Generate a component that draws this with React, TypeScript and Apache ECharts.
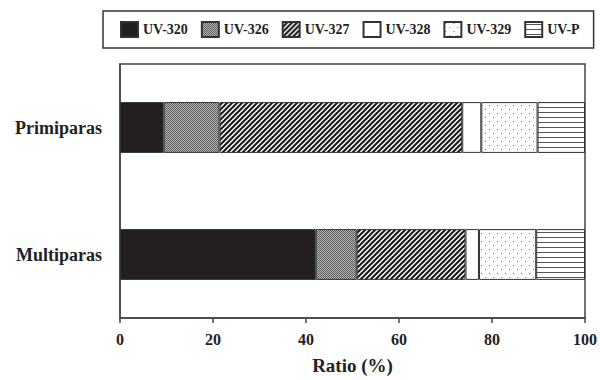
import React, { useEffect, useRef } from "react";
import * as echarts from "echarts";

const categories = ["Primiparas", "Multiparas"];
const seriesNames = ["UV-320", "UV-326", "UV-327", "UV-328", "UV-329", "UV-P"];
const uv320 = [9.4, 42.1];
const uv326 = [12.0, 8.8];
const uv327 = [52.2, 23.4];
const uv328 = [4.1, 2.9];
const uv329 = [12.1, 12.3];
const uvP = [10.2, 10.5];
const xTicks = [0, 20, 40, 60, 80, 100];

function makeCanvas(w: number, h: number, draw: (ctx: CanvasRenderingContext2D) => void) {
  const c = document.createElement("canvas");
  c.width = w;
  c.height = h;
  const ctx = c.getContext("2d")!;
  draw(ctx);
  return c;
}

function patterns() {
  const mesh = makeCanvas(4, 4, (ctx) => {
    ctx.fillStyle = "#bdbdbd";
    ctx.fillRect(0, 0, 4, 4);
    ctx.fillStyle = "#555";
    for (let y = 0; y < 4; y++)
      for (let x = 0; x < 4; x++) if ((x + y) % 2 === 0) ctx.fillRect(x, y, 1, 1);
  });
  const diag = makeCanvas(5, 5, (ctx) => {
    ctx.fillStyle = "#ffffff";
    ctx.fillRect(0, 0, 5, 5);
    ctx.strokeStyle = "#1a1a1a";
    ctx.lineWidth = 2.1;
    ctx.beginPath();
    ctx.moveTo(-1, 6);
    ctx.lineTo(6, -1);
    ctx.moveTo(-1, 1);
    ctx.lineTo(1, -1);
    ctx.moveTo(4, 6);
    ctx.lineTo(6, 4);
    ctx.stroke();
  });
  const dots = makeCanvas(8, 8, (ctx) => {
    ctx.fillStyle = "#ffffff";
    ctx.fillRect(0, 0, 8, 8);
    ctx.fillStyle = "#777";
    ctx.fillRect(1, 1, 1, 1);
    ctx.fillRect(5, 5, 1, 1);
  });
  const hlines = makeCanvas(4, 5, (ctx) => {
    ctx.fillStyle = "#ffffff";
    ctx.fillRect(0, 0, 4, 5);
    ctx.fillStyle = "#555";
    ctx.fillRect(0, 2, 4, 1);
  });
  return { mesh, diag, dots, hlines };
}

export default function App() {
  const ref = useRef<HTMLDivElement>(null);
  useEffect(() => {
    if (!ref.current) return;
    const chart = echarts.init(ref.current, null, { renderer: "svg" });
    const p = patterns();
    const fills: any[] = [
      "#231f20",
      { image: p.mesh, repeat: "repeat" },
      { image: p.diag, repeat: "repeat" },
      "#ffffff",
      { image: p.dots, repeat: "repeat" },
      { image: p.hlines, repeat: "repeat" },
    ];
    const datas = [uv320, uv326, uv327, uv328, uv329, uvP];
    const font = "Liberation Serif";
    chart.setOption({
      animation: false,
      backgroundColor: "#ffffff",
      textStyle: { fontFamily: font },
      legend: {
        data: seriesNames,
        left: 103,
        top: 11,
        width: 470,
        padding: [10, 14, 10, 17],
        itemGap: 13,
        itemWidth: 17,
        itemHeight: 15,
        icon: "rect",
        borderColor: "#333",
        borderWidth: 1.5,
        textStyle: { fontFamily: font, fontWeight: "bold", fontSize: 14, color: "#222" },
      },
      grid: {
        left: 120,
        right: 10,
        top: 64,
        bottom: 57,
        show: true,
        borderColor: "#444",
        borderWidth: 1.5,
        backgroundColor: "transparent",
      },
      xAxis: {
        type: "value",
        min: 0,
        max: 100,
        interval: 20,
        name: "Ratio (%)",
        nameLocation: "middle",
        nameGap: 38,
        nameTextStyle: { fontFamily: font, fontWeight: "bold", fontSize: 19, color: "#222" },
        axisLine: { show: true, lineStyle: { color: "#444", width: 1.5 } },
        axisTick: { show: true, length: 5, lineStyle: { color: "#444", width: 1.5 } },
        axisLabel: {
          margin: 13,
          fontFamily: font,
          fontWeight: "bold",
          fontSize: 16,
          color: "#222",
          formatter: (v: number) => (xTicks.includes(v) ? String(v) : ""),
        },
        splitLine: { show: false },
      },
      yAxis: {
        type: "category",
        data: categories,
        inverse: true,
        axisLine: { show: true, lineStyle: { color: "#444", width: 1.5 } },
        axisTick: { show: false },
        axisLabel: {
          margin: 18,
          fontFamily: font,
          fontWeight: "bold",
          fontSize: 18,
          color: "#222",
        },
      },
      series: seriesNames.map((name, i) => ({
        name,
        type: "bar",
        stack: "total",
        barWidth: "40%",
        data: datas[i],
        itemStyle: { color: fills[i], borderColor: "#333", borderWidth: 1 },
        emphasis: { disabled: true },
      })),
    });
    return () => chart.dispose();
  }, []);
  return (
    <div
      ref={ref}
      style={{ position: "absolute", left: 0, top: 0, width: 600, height: 380 }}
    />
  );
}
